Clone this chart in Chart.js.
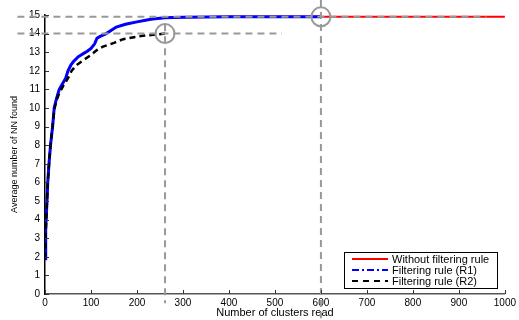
<!DOCTYPE html>
<html>
<head>
<meta charset="utf-8">
<script src="https://cdn.jsdelivr.net/npm/chart.js@4/dist/chart.umd.min.js"></script>
<style>
  html, body { margin: 0; padding: 0; background: #fff; }
  #wrap { width: 519px; height: 320px; }
</style>
</head>
<body>
<div id="wrap"><canvas id="nn-chart" width="519" height="320"></canvas></div>
<script>
// ── data ──────────────────────────────────────────────────────────────────
const xTicks = [0, 100, 200, 300, 400, 500, 600, 700, 800, 900, 1000];
const yTicks = [0, 1, 2, 3, 4, 5, 6, 7, 8, 9, 10, 11, 12, 13, 14, 15];

const seriesNames = ['Without filtering rule', 'Filtering rule (R1)', 'Filtering rule (R2)'];

// R1 (blue) – stops at 600 clusters
const r1X = [0, 1, 2, 4, 6, 9, 12, 16.5, 20, 25, 31, 38, 45, 50, 56, 62, 72, 85, 92, 100, 108, 113, 120, 133, 155, 175, 200, 230, 260, 300, 400, 600];
const r1Y = [1.9, 2.8, 3.5, 4.8, 6.0, 7.1, 8.0, 9.0, 10.0, 10.5, 11.0, 11.3, 11.6, 12.0, 12.3, 12.5, 12.75, 12.95, 13.05, 13.2, 13.45, 13.75, 13.85, 14.0, 14.35, 14.5, 14.63, 14.77, 14.85, 14.88, 14.9, 14.9];

// without filtering (red) – same curve, carried on to 1000
const noneX = [...r1X, 1000];
const noneY = [...r1Y, 14.9];

// R2 (black dashed) – stops around 261 clusters
const r2X = [0, 1, 2, 4, 6, 9, 12, 16.5, 20, 25, 31, 40, 50, 58, 68, 85, 100, 112, 126, 150, 170, 212, 240, 261];
const r2Y = [1.9, 2.8, 3.5, 4.8, 6.0, 7.1, 8.0, 9.0, 9.9, 10.4, 10.8, 11.2, 11.6, 12.0, 12.3, 12.6, 12.85, 13.1, 13.3, 13.5, 13.7, 13.88, 13.95, 14.0];

// guide marks (grey dashes + circles)
const markX = [261, 600];
const markY = [14.0, 14.9];
const guideTopX = [-60, 960];
const guideMidX = [-60, 515];
const guideV1Y = [14.5, -0.5];
const guideV2Y = [15.8, -1.3];

const pts = (xs, ys) => xs.map((x, i) => ({ x, y: ys[i] }));

const RED = '#ff0000', BLUE = '#0000ff', BLACK = '#000000', GREY = '#999999';
const FONT = '"Liberation Sans", Arial, sans-serif';
Chart.defaults.font.family = FONT;
Chart.defaults.color = '#000';

// legend samples, drawn in a box inside the plot
const legendStyle = [
  { color: RED, dash: [], width: 2 },
  { color: BLUE, dash: [7, 3, 2, 3], width: 2 },
  { color: BLACK, dash: [6, 5], width: 2 },
];

const insideTicks = {
  id: 'insideTicks',
  afterDraw(chart) {
    const { ctx, chartArea: a, scales: { x, y } } = chart;
    ctx.save();
    ctx.lineWidth = 1;
    ctx.strokeStyle = '#333';
    ctx.beginPath();
    x.ticks.forEach(t => { const p = Math.round(x.getPixelForValue(t.value)) + 0.5; ctx.moveTo(p, a.bottom); ctx.lineTo(p, a.bottom - 4); });
    y.ticks.forEach(t => { const p = Math.round(y.getPixelForValue(t.value)) + 0.5; ctx.moveTo(a.left, p); ctx.lineTo(a.left + 4, p); });
    ctx.stroke();
    ctx.restore();
  }
};

const boxLegend = {
  id: 'boxLegend',
  afterDraw(chart) {
    const { ctx } = chart;
    const bx = 344, by = 252, bw = 153, bh = 36;
    ctx.save();
    ctx.fillStyle = '#fff';
    ctx.fillRect(bx, by, bw, bh);
    ctx.lineWidth = 1;
    ctx.strokeStyle = '#000';
    ctx.strokeRect(bx + 0.5, by + 0.5, bw, bh);
    ctx.font = '11px ' + FONT;
    ctx.textBaseline = 'middle';
    ctx.fillStyle = '#000';
    seriesNames.forEach((name, i) => {
      const yy = by + 7 + i * 11;
      const s = legendStyle[i];
      ctx.beginPath();
      ctx.setLineDash(s.dash);
      ctx.lineWidth = s.width;
      ctx.strokeStyle = s.color;
      ctx.moveTo(352, yy);
      ctx.lineTo(388, yy);
      ctx.stroke();
      ctx.setLineDash([]);
      ctx.fillText(name, 392, yy + 0.5);
    });
    ctx.restore();
  }
};

const guide = (data, order) => ({
  data, order, borderColor: GREY, borderWidth: 2, borderDash: [7, 5],
  pointRadius: 0, clip: false, tension: 0
});

new Chart(document.getElementById('nn-chart'), {
  type: 'line',
  data: {
    datasets: [
      guide(pts(guideTopX, [markY[1], markY[1]]), 0),
      guide(pts(guideMidX, [markY[0], markY[0]]), 0),
      guide(pts([markX[0], markX[0]], guideV1Y), 0),
      guide(pts([markX[1], markX[1]], guideV2Y), 0),
      { data: pts(markX, markY), order: 0, showLine: false, pointRadius: 9.5, pointBorderWidth: 2,
        pointBorderColor: GREY, pointBackgroundColor: 'rgba(0,0,0,0)', clip: false },
      { label: seriesNames[2], data: pts(r2X, r2Y), order: 1, borderColor: BLACK, borderWidth: 2.5,
        borderDash: [6, 4], pointRadius: 0, tension: 0 },
      { label: seriesNames[1], data: pts(r1X, r1Y), order: 2, borderColor: BLUE, borderWidth: 3,
        pointRadius: 0, tension: 0 },
      { label: seriesNames[0], data: pts(noneX, noneY), order: 3, borderColor: RED, borderWidth: 2,
        pointRadius: 0, tension: 0 },
    ]
  },
  options: {
    responsive: false,
    animation: false,
    layout: { padding: { top: 15, right: 11, left: 0, bottom: 0 } },
    plugins: { legend: { display: false }, tooltip: { enabled: false } },
    scales: {
      x: {
        type: 'linear', min: 0, max: 1000,
        afterBuildTicks: s => { s.ticks = xTicks.map(v => ({ value: v })); },
        afterFit: s => { s.height = 26; },
        ticks: { font: { size: 10 }, padding: 3, maxRotation: 0, color: '#000', callback: v => String(v) },
        grid: { display: false, drawTicks: false },
        border: { display: true, color: '#555', width: 1.5 },
        title: { display: true, text: 'Number of clusters read', font: { size: 11 }, padding: { top: 0, bottom: 0 }, color: '#000' }
      },
      y: {
        type: 'linear', min: 0, max: 15,
        afterBuildTicks: s => { s.ticks = yTicks.map(v => ({ value: v })); },
        afterFit: s => { s.width = 45; },
        ticks: { font: { size: 10 }, padding: 5, color: '#000', callback: v => String(v) },
        grid: { display: false, drawTicks: false },
        border: { display: true, color: '#000', width: 1.5 },
        title: { display: true, text: 'Average number of NN found', font: { size: 9 }, padding: { top: 9, bottom: 0 }, color: '#000' }
      }
    }
  },
  plugins: [insideTicks, boxLegend]
});
</script>
</body>
</html>
